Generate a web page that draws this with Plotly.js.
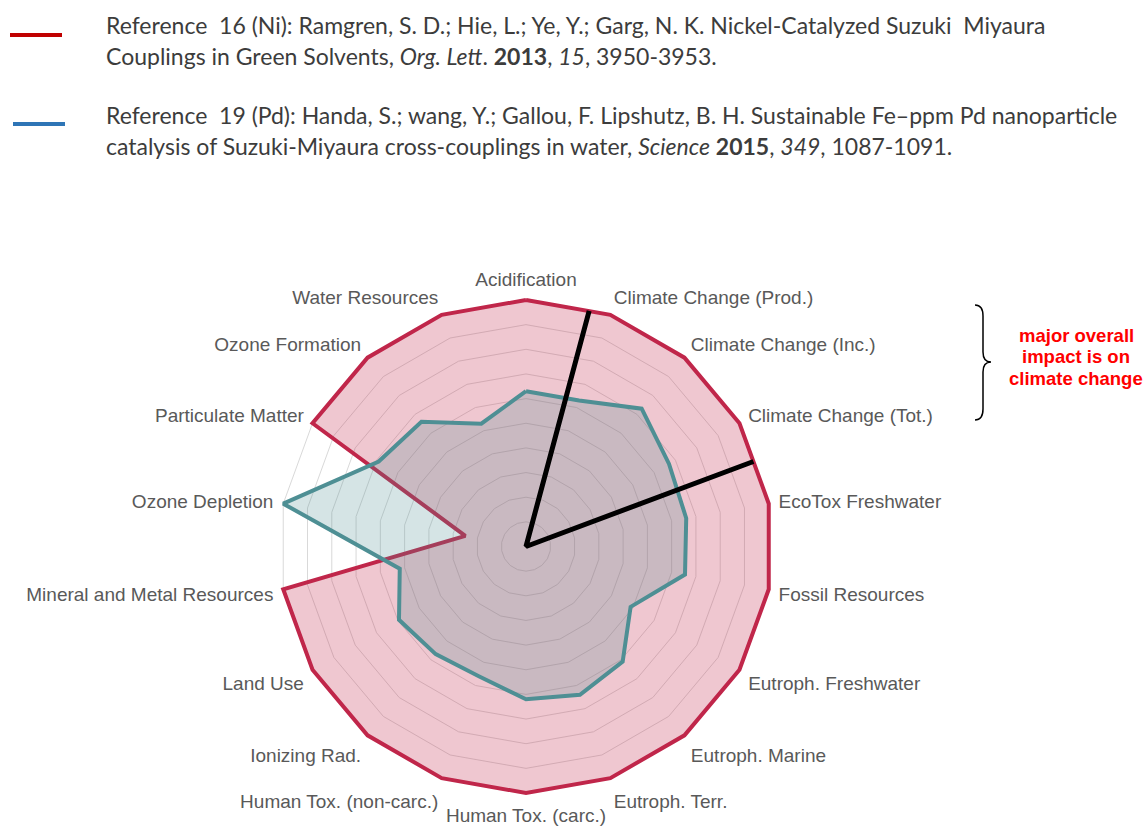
<!DOCTYPE html>
<html>
<head>
<meta charset="utf-8">
<script src="https://cdn.plot.ly/plotly-3.0.1.min.js"></script>
<style>html,body{margin:0;padding:0;background:#fff;}#chart{width:1148px;height:827px;}</style>
</head>
<body>
<div id="chart"></div>
<script>
const categories = ['Acidification','Climate Change (Prod.)','Climate Change (Inc.)','Climate Change (Tot.)','EcoTox Freshwater','Fossil Resources','Eutroph. Freshwater','Eutroph. Marine','Eutroph. Terr.','Human Tox. (carc.)','Human Tox. (non-carc.)','Ionizing Rad.','Land Use','Mineral and Metal Resources','Ozone Depletion','Particulate Matter','Ozone Formation','Water Resources'];
const niValues = [1,1,1,1,1,1,1,1,1,1,1,1,1,1,0.25,1,1,1];
const pdValues = [0.63,0.63,0.73,0.67,0.66,0.655,0.49,0.61,0.64,0.62,0.56,0.57,0.595,0.52,1.0,0.69,0.66,0.53];
const wedgeTheta = [15, 0, 69.5];
const wedgeR = [0.99, 0, 0.985];
const seriesNames = ['Reference 16 (Ni)', 'Reference 19 (Pd)'];
const legendLines = [
  'Reference  16 (Ni): Ramgren, S. D.; Hie, L.; Ye, Y.; Garg, N. K. Nickel-Catalyzed Suzuki  Miyaura',
  'Couplings in Green Solvents, <i>Org. Lett</i>. <b>2013</b>, <i>15</i>, 3950-3953.',
  'Reference  19 (Pd): Handa, S.; wang, Y.; Gallou, F. Lipshutz, B. H. Sustainable Fe–ppm Pd nanoparticle',
  'catalysis of Suzuki-Miyaura cross-couplings in water, <i>Science</i> <b>2015</b>, <i>349</i>, 1087-1091.'
];
const noteLines = ['major overall', 'impact is on', 'climate change'];

const W = 1148, H = 827;
const px = x => x / W;
const py = y => 1 - y / H;
const close = a => a.concat([a[0]]);

const traces = [
  {type:'scatterpolar', subplot:'polar', name:seriesNames[0], theta:close(categories), r:close(niValues),
   mode:'lines', fill:'toself', fillcolor:'rgba(192,38,74,0.26)', line:{color:'#C0264A', width:4}, hoverinfo:'skip'},
  {type:'scatterpolar', subplot:'polar', name:seriesNames[1], theta:close(categories), r:close(pdValues),
   mode:'lines', fill:'toself', fillcolor:'rgba(78,143,148,0.24)', line:{color:'#4E8F94', width:4}, hoverinfo:'skip'},
  {type:'scatterpolar', subplot:'polar2', name:'climate wedge', theta:wedgeTheta, r:wedgeR,
   mode:'lines', line:{color:'#000000', width:5}, hoverinfo:'skip'}
];

const rMax = 1.015;
const cy = 546.5, R = 246.5 * rMax;
const dom = {x:[px(526-R), px(526+R)], y:[py(cy+R), py(cy-R)]};
const legY = [25, 56, 115, 146];
const annotations = legendLines.map((t,i) => ({
  xref:'paper', yref:'paper', x:px(104), y:py(legY[i]), xanchor:'left', yanchor:'middle',
  text:t, showarrow:false, font:{family:'Lato, sans-serif', size:23, color:'#3c3c3c'}
}));
const noteY = [335, 356.5, 378];
noteLines.forEach((t,i) => annotations.push({xref:'paper', yref:'paper', x:px(1076), y:py(noteY[i]), xanchor:'center', yanchor:'middle',
  text:'<b>'+t+'</b>', showarrow:false, font:{family:'Liberation Sans, Arial, sans-serif', size:18.5, color:'#FF0000'}}));

const brace = 'M ' + [
  [px(975),py(305)].join(','), 'Q', [px(983),py(305)].join(','), [px(983),py(316)].join(','),
  'L', [px(983),py(352)].join(','), 'Q', [px(983),py(362)].join(','), [px(991),py(362)].join(','),
  'Q', [px(983),py(362)].join(','), [px(983),py(372)].join(','),
  'L', [px(983),py(409)].join(','), 'Q', [px(983),py(420)].join(','), [px(975),py(420)].join(',')
].join(' ');

const shapes = [
  {type:'line', xref:'paper', yref:'paper', x0:px(10), x1:px(62), y0:py(35), y1:py(35), line:{color:'#C00000', width:4}},
  {type:'line', xref:'paper', yref:'paper', x0:px(13), x1:px(65), y0:py(124), y1:py(124), line:{color:'#2E75B6', width:4}},
  {type:'path', xref:'paper', yref:'paper', path:brace, line:{color:'#000000', width:1.5}}
];

const layout = {
  width:W, height:H, margin:{l:0,r:0,t:0,b:0}, paper_bgcolor:'#ffffff', showlegend:false,
  polar:{
    domain:dom, bgcolor:'rgba(0,0,0,0)', gridshape:'linear',
    radialaxis:{range:[0,rMax], tickvals:[0.1,0.2,0.3,0.4,0.5,0.6,0.7,0.8,0.9,1.0], showticklabels:false, ticks:'', showline:false, gridcolor:'#d9d9d9', gridwidth:1, layer:'below traces'},
    angularaxis:{type:'category', categoryarray:categories, rotation:90, direction:'clockwise',
      ticks:'outside', ticklen:2, tickcolor:'rgba(0,0,0,0)', showgrid:false, layer:'below traces',
      showline:false,
      tickfont:{family:'Liberation Sans, Arial, sans-serif', size:19, color:'#595959'}}
  },
  polar2:{
    domain:dom, bgcolor:'rgba(0,0,0,0)',
    radialaxis:{range:[0,rMax], visible:false},
    angularaxis:{type:'linear', rotation:90, direction:'clockwise', visible:false}
  },
  annotations:annotations, shapes:shapes
};

Plotly.newPlot('chart', traces, layout, {displayModeBar:false, staticPlot:true});
</script>
</body>
</html>
